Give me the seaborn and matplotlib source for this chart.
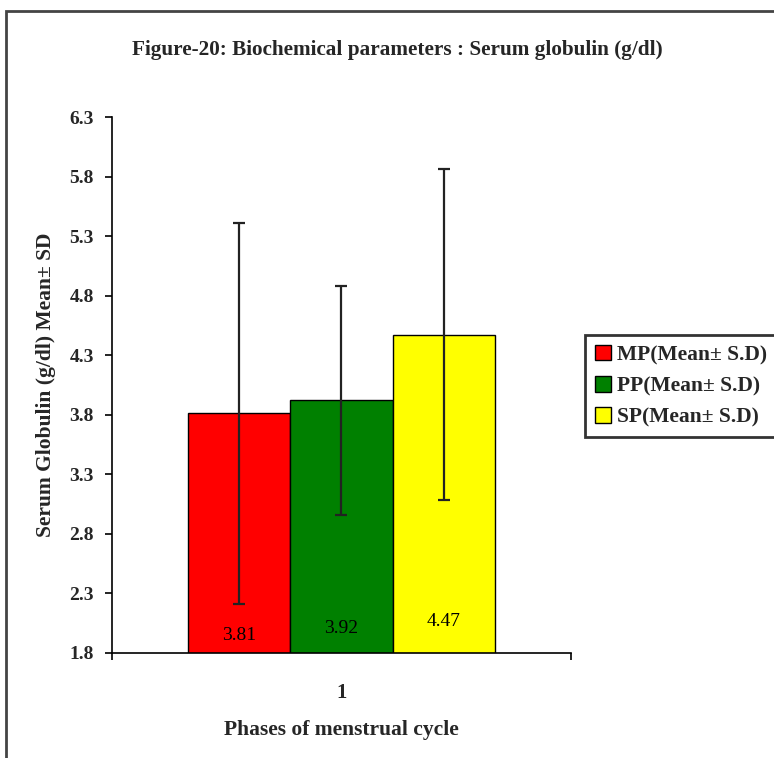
import matplotlib
matplotlib.use("Agg")
import matplotlib.pyplot as plt
import seaborn as sns
import pandas as pd
from matplotlib.patches import Rectangle

categories = ["1", "1", "1"]
phases = ["MP(Mean± S.D)", "PP(Mean± S.D)", "SP(Mean± S.D)"]
means = [3.81, 3.92, 4.47]
sds = [1.60, 0.96, 1.39]
colors = ["#FF0000", "#008000", "#FFFF00"]
value_labels = ["3.81", "3.92", "4.47"]
yticks = [1.8, 2.3, 2.8, 3.3, 3.8, 4.3, 4.8, 5.3, 5.8, 6.3]

sns.set_theme(style="white")
plt.rcParams['font.family'] = ['Liberation Serif', 'DejaVu Serif']

df = pd.DataFrame({"cat": categories, "phase": phases, "mean": means})

fig = plt.figure(figsize=(7.74, 7.58), dpi=100)
ax = fig.add_axes([0.1447, 0.139, 0.593, 0.7066])

sns.barplot(data=df, x="cat", y="mean", hue="phase", palette=colors,
            width=0.667, edgecolor="black", linewidth=1.0, ax=ax,
            saturation=1, errorbar=None, legend=True)

bars = [p for p in ax.patches if p.get_height() > 0][:3]
xs = [b.get_x() + b.get_width() / 2 for b in bars]
ax.errorbar(xs, means, yerr=sds, fmt="none", ecolor="#222222",
            elinewidth=1.6, capsize=4, capthick=1.6, zorder=5)

label_offsets = [0.14, 0.20, 0.26]
for x, lab, off in zip(xs, value_labels, label_offsets):
    ax.text(x, yticks[0] + off, lab, ha="center", va="center",
            fontsize=14, color="black", zorder=6)

ax.set_ylim(1.8, 6.3)
ax.set_xlim(-0.5, 0.5)
ax.set_yticks(yticks)
ax.set_yticklabels([f"{t:.1f}" for t in yticks], fontsize=14, fontweight="bold")
ax.set_xticks([0])
ax.set_xticklabels(["1"], fontsize=15, fontweight="bold")
ax.set_xticks([-0.5, 0.5], minor=True)
ax.tick_params(axis="x", which="major", length=0, pad=22)
ax.tick_params(axis="x", which="minor", length=5, width=1.2, color="black", direction="out", bottom=True)
ax.tick_params(axis="y", length=5, width=1.2, color="black", direction="out", left=True, pad=8)

for s in ["top", "right"]:
    ax.spines[s].set_visible(False)
for s in ["left", "bottom"]:
    ax.spines[s].set_color("black")
    ax.spines[s].set_linewidth(1.2)

ax.set_xlabel("Phases of menstrual cycle", fontsize=15.5, fontweight="bold", labelpad=12)
ax.set_ylabel("Serum Globulin (g/dl) Mean± SD", fontsize=15.5, fontweight="bold", labelpad=10)

fig.text(0.513, 0.934, "Figure-20: Biochemical parameters : Serum globulin (g/dl)",
         ha="center", va="center", fontsize=15.3, fontweight="bold")

leg = ax.legend(loc="upper left", bbox_to_anchor=(0.756, 0.558), bbox_transform=fig.transFigure,
                frameon=True, fancybox=False, edgecolor="black", fontsize=15.5,
                handlelength=0.75, handleheight=0.75, handletextpad=0.3, borderpad=0.45,
                labelspacing=0.5, borderaxespad=0)
leg.get_frame().set_linewidth(2.0)
for t in leg.get_texts():
    t.set_fontweight("bold")

fig.patches.append(Rectangle((6 / 774, -0.05), 1.2, 1 - 11 / 758 + 0.05,
                             transform=fig.transFigure, fill=False,
                             edgecolor="#444444", linewidth=2.0, zorder=0))

fig.savefig("out.png", dpi=100)
